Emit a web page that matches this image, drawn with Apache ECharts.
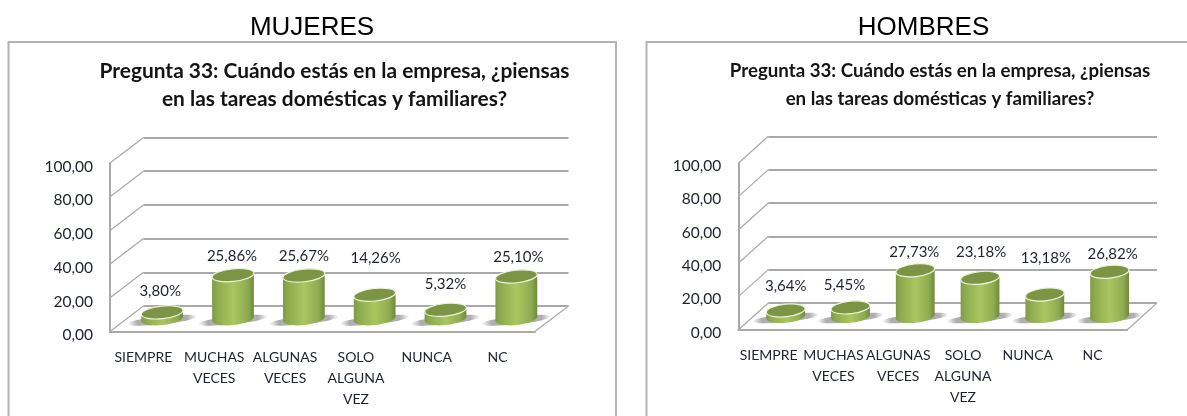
<!DOCTYPE html>
<html>
<head>
<meta charset="utf-8">
<style>html,body{margin:0;padding:0;background:#fff}#c{width:1187px;height:416px}</style>
<script src="https://cdn.jsdelivr.net/npm/echarts@6/dist/echarts.min.js"></script>
</head>
<body>
<div id="c"></div>
<script>
var categories = ['SIEMPRE', 'MUCHAS VECES', 'ALGUNAS VECES', 'SOLO ALGUNA VEZ', 'NUNCA', 'NC'];
var yTicks = [0, 20, 40, 60, 80, 100];
var mujeresValues = [3.80, 25.86, 25.67, 14.26, 5.32, 25.10];
var hombresValues = [3.64, 5.45, 27.73, 23.18, 13.18, 26.82];
var chartTitle = 'Pregunta 33: Cuándo estás en la empresa, ¿piensas\nen las tareas domésticas y familiares?';
var panelNames = ['MUJERES', 'HOMBRES'];

// layout only
var W = 1187, H = 416;
var panels = [
  {name: panelNames[0], values: mujeresValues, headX: 312, titleX: 334.5, titleSize: 20.9, yLine: 7.5,
   fl: 110, fr: 535, ft: 163, fb: 331.5, dx: 33.5, dy: -25.5, rx: 21, lift: [21, 19, 19, 37, 26, 19], labelShift: [-2, -1, 0, 1, 0, 2]},
  {name: panelNames[1], values: hombresValues, headX: 923.5, titleX: 940, titleSize: 18.7, yLine: 5.5,
   fl: 738.3, fr: 1127, ft: 163.3, fb: 330, dx: 30, dy: -27, rx: 19.5, lift: [24, 22, 18, 26, 36, 18], labelShift: [0, -6, -1, 1, 1, 3]}
];
var grey = '#a9a9a9', textColor = '#1d2230', font = 'Lato';
var TILT = 6 * Math.PI / 180;

function fmt(v) { return v.toFixed(2).replace('.', ','); }

function cylinderItem(p) {
  return function (params, api) {
    var i = api.value(0), v = api.value(1);
    var base = api.coord([i, 0]), top = api.coord([i, v]);
    var cx = base[0] + p.dx / 2, by = base[1] + p.dy / 2, ty = top[1] + p.dy / 2;
    var rx = p.rx, ry = 6.3, c = Math.cos(TILT), s = Math.sin(TILT);
    var bodyFill = new echarts.graphic.LinearGradient(0, 0, 1, 0, [
      {offset: 0, color: '#7f9a46'}, {offset: 0.12, color: '#8dab4e'}, {offset: 0.5, color: '#a8c760'},
      {offset: 0.85, color: '#8eac50'}, {offset: 1, color: '#6f893b'}]);
    var shadowFill = new echarts.graphic.LinearGradient(0, 0, 1, 0, [
      {offset: 0, color: 'rgba(130,130,130,0)'}, {offset: 0.14, color: 'rgba(120,120,120,0.6)'},
      {offset: 0.86, color: 'rgba(120,120,120,0.6)'}, {offset: 1, color: 'rgba(130,130,130,0)'}]);
    return {
      type: 'group',
      children: [
        {type: 'ellipse', x: cx, y: by + 1.5, rotation: TILT, shape: {cx: 0, cy: 0, rx: rx + 14, ry: 4}, style: {fill: shadowFill}},
        {type: 'ellipse', x: cx, y: by, rotation: TILT, shape: {cx: 0, cy: 0, rx: rx, ry: ry}, style: {fill: bodyFill}},
        {type: 'polygon', shape: {points: [[cx - rx * c, ty + rx * s], [cx + rx * c, ty - rx * s], [cx + rx * c, by - rx * s], [cx - rx * c, by + rx * s]]}, style: {fill: bodyFill}},
        {type: 'ellipse', x: cx, y: ty, rotation: TILT, shape: {cx: 0, cy: 0, rx: rx, ry: ry}, style: {fill: '#7c9545', stroke: '#edf4dc', lineWidth: 1.2}},
        {type: 'text', x: cx + p.labelShift[i], y: ty - p.lift[i], style: {text: fmt(v) + '%', fill: textColor, font: '15px ' + font, textAlign: 'center', textVerticalAlign: 'middle'}}
      ]
    };
  };
}

function wallItem(p) {
  return function (params, api) {
    var y = api.coord([0, api.value(0)])[1], x = params.coordSys.x;
    return {type: 'line', shape: {x1: x, y1: y, x2: x + p.dx, y2: y + p.dy}, style: {stroke: grey, lineWidth: 1.2}};
  };
}
function floorItem(p) {
  return function (params, api) {
    var y = api.coord([0, 0])[1], x = params.coordSys.x + params.coordSys.width;
    return {type: 'line', shape: {x1: x, y1: y, x2: x + p.dx, y2: y + p.dy}, style: {stroke: grey, lineWidth: 1.2}};
  };
}

var option = {animation: false, backgroundColor: '#fff', title: [], grid: [], xAxis: [], yAxis: [], series: [],
  graphic: [
    {type: 'polyline', z: 0, silent: true, shape: {points: [[8.5, H], [8.5, 42], [616, 42], [616, H]]}, style: {fill: 'none', stroke: '#b3b3b3', lineWidth: 2}},
    {type: 'polyline', z: 0, silent: true, shape: {points: [[646.5, H], [646.5, 42], [W, 42]]}, style: {fill: 'none', stroke: '#b3b3b3', lineWidth: 2}}
  ]};

panels.forEach(function (p, k) {
  var front = k * 2, back = k * 2 + 1;
  option.title.push(
    {text: p.name, left: p.headX, top: 15, padding: 0, textAlign: 'center', textStyle: {fontFamily: 'Liberation Sans', fontSize: 26, fontWeight: 'normal', color: '#000'}},
    {text: chartTitle, left: p.titleX, top: 57, padding: 0, textAlign: 'center', textStyle: {fontFamily: font, fontSize: p.titleSize, fontWeight: 'bold', color: '#141414', lineHeight: 28}}
  );
  option.grid.push(
    {left: p.fl, width: p.fr - p.fl, top: p.ft, height: p.fb - p.ft, containLabel: false},
    {left: p.fl + p.dx, width: p.fr - p.fl, top: p.ft + p.dy, height: p.fb - p.ft, containLabel: false}
  );
  option.xAxis.push(
    {type: 'category', gridIndex: front, data: categories, axisTick: {show: false},
     axisLine: {lineStyle: {color: grey, width: 2}},
     axisLabel: {interval: 0, margin: 15, color: textColor, fontFamily: font, fontSize: 14, lineHeight: 21, verticalAlign: 'top', padding: [0, 4, 0, 0],
       formatter: function (v) { return v.replace(/ /g, '\n'); }}},
    {type: 'category', gridIndex: back, data: categories, show: false}
  );
  option.yAxis.push(
    {type: 'value', gridIndex: front, min: 0, max: 100, interval: 20, splitLine: {show: false}, axisTick: {show: false},
     axisLine: {show: true, lineStyle: {color: grey, width: 2}},
     axisLabel: {margin: 17, color: textColor, fontFamily: font, fontSize: 15.5, verticalAlign: 'top', lineHeight: p.yLine, formatter: function (v) { return fmt(v); }}},
    {type: 'value', gridIndex: back, min: 0, max: 100, interval: 20, axisLabel: {show: false}, axisTick: {show: false}, axisLine: {show: false},
     splitLine: {show: true, lineStyle: {color: grey, width: 2}}}
  );
  option.series.push(
    {type: 'custom', xAxisIndex: front, yAxisIndex: front, z: 2, clip: false, silent: true, data: yTicks, encode: {y: 0}, renderItem: wallItem(p)},
    {type: 'custom', xAxisIndex: front, yAxisIndex: front, z: 2, clip: false, silent: true, data: [0], encode: {y: 0}, renderItem: floorItem(p)},
    {type: 'custom', xAxisIndex: front, yAxisIndex: front, z: 5, clip: false, silent: true,
     data: p.values.map(function (v, i) { return [i, v]; }), encode: {x: 0, y: 1}, renderItem: cylinderItem(p)}
  );
});

echarts.init(document.getElementById('c'), null, {renderer: 'canvas'}).setOption(option);
</script>
</body>
</html>
